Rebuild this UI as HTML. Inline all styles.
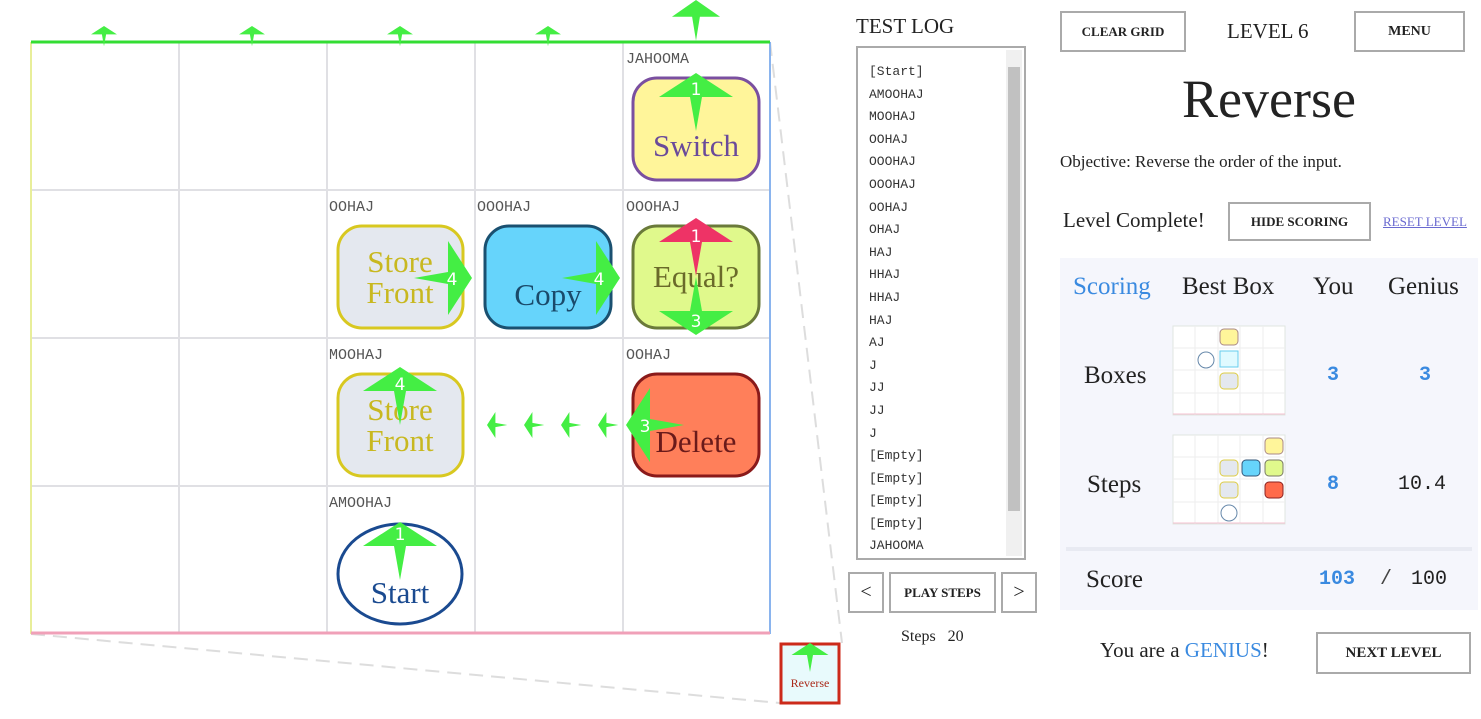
<!DOCTYPE html>
<html><head><meta charset="utf-8"><style>
body{margin:0;width:1481px;height:719px;background:#fff;position:relative;overflow:hidden;font-family:"Liberation Serif",serif;color:#222}
.a{position:absolute}
.btn{position:absolute;border:2px solid #aaa;background:#fff;font-weight:bold;font-size:13px;text-align:center;box-sizing:border-box;font-family:"Liberation Serif",serif}
.mono{font-family:"Liberation Mono",monospace}
</style></head><body>
<svg class="a" style="left:0;top:0" width="1481" height="719">
<defs>
<polygon id="ar" points="0,0 37,24 6,24 0,58 -6,24 -37,24"/>
</defs>
<!-- dashed perspective lines -->
<line x1="770" y1="42" x2="842" y2="643" stroke="#ddd" stroke-width="2" stroke-dasharray="14,8"/>
<line x1="31" y1="634" x2="780" y2="703" stroke="#ddd" stroke-width="2" stroke-dasharray="14,8"/>
<!-- grid -->
<g stroke="#e0e0e4" stroke-width="2">
<line x1="179" y1="42" x2="179" y2="634"/><line x1="327" y1="42" x2="327" y2="634"/>
<line x1="475" y1="42" x2="475" y2="634"/><line x1="623" y1="42" x2="623" y2="634"/>
<line x1="31" y1="190" x2="770" y2="190"/><line x1="31" y1="338" x2="770" y2="338"/><line x1="31" y1="486" x2="770" y2="486"/>
</g>
<line x1="31" y1="42" x2="31" y2="634" stroke="#e8ee9a" stroke-width="2"/>
<line x1="770" y1="42" x2="770" y2="634" stroke="#8ab4ee" stroke-width="2"/>
<line x1="31" y1="633" x2="770" y2="633" stroke="#f0a0b8" stroke-width="3"/>
<line x1="31" y1="42" x2="770" y2="42" stroke="#33dd33" stroke-width="3"/>
<!-- cell labels -->
<g font-family="Liberation Mono,monospace" font-size="15" fill="#555">
<text x="626" y="63">JAHOOMA</text>
<text x="329" y="211">OOHAJ</text><text x="477" y="211">OOOHAJ</text><text x="626" y="211">OOOHAJ</text>
<text x="329" y="359">MOOHAJ</text><text x="626" y="359">OOHAJ</text>
<text x="329" y="507">AMOOHAJ</text>
</g>
<!-- boxes -->
<g stroke-width="3" font-family="Liberation Serif,serif" font-size="31" text-anchor="middle">
<rect x="633" y="78" width="126" height="102" rx="24" fill="#fff59a" stroke="#7a4fa0"/>
<text x="696" y="156" fill="#6a4a9a">Switch</text>
<rect x="338" y="226" width="125" height="102" rx="24" fill="#e4e8ef" stroke="#d8c820"/>
<text x="400" y="272" fill="#c8b820">Store</text><text x="400" y="303" fill="#c8b820">Front</text>
<rect x="485" y="226" width="126" height="102" rx="24" fill="#66d4fb" stroke="#1a5070"/>
<text x="548" y="305" fill="#1a4a6a">Copy</text>
<rect x="633" y="226" width="126" height="102" rx="24" fill="#e0f98c" stroke="#6a7a3a"/>
<text x="696" y="287" fill="#6a6a2a">Equal?</text>
<rect x="338" y="374" width="125" height="102" rx="24" fill="#e4e8ef" stroke="#d8c820"/>
<text x="400" y="420" fill="#c8b820">Store</text><text x="400" y="451" fill="#c8b820">Front</text>
<rect x="633" y="374" width="126" height="102" rx="24" fill="#ff7f5a" stroke="#8a1a1a"/>
<text x="696" y="452" fill="#6a1a1a">Delete</text>
<ellipse cx="400" cy="574" rx="62" ry="50" fill="#fff" stroke="#1a4a90"/>
<text x="400" y="603" fill="#1a4a90">Start</text>
</g>
<!-- arrows -->
<g fill="#44ee44">
<use href="#ar" transform="translate(104,26) scale(.35)"/>
<use href="#ar" transform="translate(252,26) scale(.35)"/>
<use href="#ar" transform="translate(400,26) scale(.35)"/>
<use href="#ar" transform="translate(548,26) scale(.35)"/>
<use href="#ar" transform="translate(696,0) scale(.65,.7)"/>
<use href="#ar" transform="translate(696,73)"/>
<use href="#ar" transform="translate(472,278) rotate(90)"/>
<use href="#ar" transform="translate(620,278) rotate(90)"/>
<use href="#ar" transform="translate(696,335) rotate(180)"/>
<use href="#ar" transform="translate(400,367)"/>
<use href="#ar" transform="translate(626,425) rotate(-90)"/>
<use href="#ar" transform="translate(487,425) rotate(-90) scale(.35)"/>
<use href="#ar" transform="translate(524,425) rotate(-90) scale(.35)"/>
<use href="#ar" transform="translate(561,425) rotate(-90) scale(.35)"/>
<use href="#ar" transform="translate(598,425) rotate(-90) scale(.35)"/>
<use href="#ar" transform="translate(400,522)"/>
</g>
<use href="#ar" fill="#ee3366" transform="translate(696,218)"/>
<g fill="#fff" font-family="DejaVu Sans,sans-serif" font-size="17" text-anchor="middle">
<text x="696" y="95">1</text><text x="452" y="285">4</text><text x="599" y="285">4</text>
<text x="696" y="242">1</text><text x="696" y="327">3</text><text x="400" y="390">4</text>
<text x="645" y="432">3</text><text x="400" y="540">1</text>
</g>
<!-- thumbnail -->
<rect x="781" y="644" width="58" height="59" fill="#e8fafc" stroke="#cc2a1a" stroke-width="3"/>
<text x="810" y="687" font-size="12" fill="#aa2a1a" text-anchor="middle" font-family="Liberation Serif,serif">Reverse</text>
<use href="#ar" fill="#44ee44" transform="translate(810,643) scale(.5)"/>
</svg>

<!-- test log -->
<div class="a" style="left:856px;top:14px;font-size:21px">TEST LOG</div>
<div class="a" style="left:856px;top:46px;width:170px;height:514px;border:2px solid #aaa;box-sizing:border-box;background:#fff"></div>
<div class="a" style="left:1006px;top:50px;width:16px;height:506px;background:#f0f0f0"></div>
<div class="a" style="left:1008px;top:67px;width:12px;height:444px;background:#c1c1c1"></div>
<div class="a mono" style="left:869px;top:61px;font-size:13px;line-height:22.6px;color:#333;white-space:pre">[Start]
AMOOHAJ
MOOHAJ
OOHAJ
OOOHAJ
OOOHAJ
OOHAJ
OHAJ
HAJ
HHAJ
HHAJ
HAJ
AJ
J
JJ
JJ
J
[Empty]
[Empty]
[Empty]
[Empty]
JAHOOMA</div>
<div class="btn" style="left:848px;top:572px;width:36px;height:41px;font-size:20px;font-weight:normal;line-height:37px">&lt;</div>
<div class="btn" style="left:889px;top:572px;width:107px;height:41px;line-height:37px">PLAY STEPS</div>
<div class="btn" style="left:1001px;top:572px;width:36px;height:41px;font-size:20px;font-weight:normal;line-height:37px">&gt;</div>
<div class="a" style="left:901px;top:628px;font-size:16px">Steps&nbsp;&nbsp;&nbsp;20</div>

<!-- right panel -->
<div class="btn" style="left:1060px;top:11px;width:126px;height:41px;line-height:37px">CLEAR GRID</div>
<div class="a" style="left:1227px;top:19px;font-size:21px">LEVEL 6</div>
<div class="btn" style="left:1354px;top:11px;width:111px;height:41px;line-height:37px;font-size:14px">MENU</div>
<div class="a" style="left:1060px;top:68px;width:418px;text-align:center;font-size:54px">Reverse</div>
<div class="a" style="left:1060px;top:152px;font-size:17px">Objective: Reverse the order of the input.</div>
<div class="a" style="left:1063px;top:208px;font-size:21px">Level Complete!</div>
<div class="btn" style="left:1228px;top:202px;width:143px;height:39px;line-height:35px">HIDE SCORING</div>
<div class="a" style="left:1383px;top:214px;font-size:13px;color:#6a6ad0;text-decoration:underline">RESET LEVEL</div>
<div class="a" style="left:1060px;top:258px;width:418px;height:352px;background:#f5f6fc"></div>
<div class="a" style="left:1066px;top:547px;width:406px;height:4px;background:#e8eaf2"></div>
<div class="a" style="left:1073px;top:273px;font-size:25px;color:#3a8ae0">Scoring</div>
<div class="a" style="left:1182px;top:273px;font-size:25px">Best Box</div>
<div class="a" style="left:1313px;top:273px;font-size:25px">You</div>
<div class="a" style="left:1388px;top:273px;font-size:25px">Genius</div>
<div class="a" style="left:1084px;top:362px;font-size:25px">Boxes</div>
<div class="a" style="left:1087px;top:471px;font-size:25px">Steps</div>
<div class="a" style="left:1086px;top:566px;font-size:25px">Score</div>
<div class="a mono" style="left:1327px;top:364px;font-size:20px;font-weight:bold;color:#3a8ae0">3</div>
<div class="a mono" style="left:1419px;top:364px;font-size:20px;font-weight:bold;color:#3a8ae0">3</div>
<div class="a mono" style="left:1327px;top:473px;font-size:20px;font-weight:bold;color:#3a8ae0">8</div>
<div class="a mono" style="left:1398px;top:473px;font-size:20px;color:#222">10.4</div>
<div class="a mono" style="left:1319px;top:568px;font-size:20px;font-weight:bold;color:#3a8ae0">103</div>
<div class="a mono" style="left:1380px;top:568px;font-size:20px;color:#444">/</div>
<div class="a mono" style="left:1411px;top:568px;font-size:20px;color:#222">100</div>
<svg class="a" style="left:1172px;top:325px" width="114" height="91">
<rect x="1" y="1" width="112" height="89" fill="#fff" stroke="#e0e6e0"/>
<g stroke="#eee"><line x1="23" y1="1" x2="23" y2="90"/><line x1="46" y1="1" x2="46" y2="90"/><line x1="68" y1="1" x2="68" y2="90"/><line x1="91" y1="1" x2="91" y2="90"/><line x1="1" y1="23" x2="113" y2="23"/><line x1="1" y1="45" x2="113" y2="45"/><line x1="1" y1="68" x2="113" y2="68"/></g>
<rect x="48" y="4" width="18" height="16" rx="4" fill="#fff59a" stroke="#a88"/>
<rect x="48" y="26" width="18" height="16" fill="#e0faff" stroke="#6ce"/>
<rect x="48" y="48" width="18" height="16" rx="4" fill="#e4e8ef" stroke="#dc4"/>
<circle cx="34" cy="35" r="8" fill="#fff" stroke="#68a"/>
<line x1="1" y1="89" x2="113" y2="89" stroke="#f4c0d0"/>
</svg>
<svg class="a" style="left:1172px;top:434px" width="114" height="91">
<rect x="1" y="1" width="112" height="89" fill="#fff" stroke="#e0e6e0"/>
<g stroke="#eee"><line x1="23" y1="1" x2="23" y2="90"/><line x1="46" y1="1" x2="46" y2="90"/><line x1="68" y1="1" x2="68" y2="90"/><line x1="91" y1="1" x2="91" y2="90"/><line x1="1" y1="23" x2="113" y2="23"/><line x1="1" y1="45" x2="113" y2="45"/><line x1="1" y1="68" x2="113" y2="68"/></g>
<rect x="93" y="4" width="18" height="16" rx="4" fill="#fff59a" stroke="#a88"/>
<rect x="48" y="26" width="18" height="16" rx="4" fill="#e4e8ef" stroke="#dc4"/>
<rect x="70" y="26" width="18" height="16" rx="4" fill="#66d4fb" stroke="#357"/>
<rect x="93" y="26" width="18" height="16" rx="4" fill="#e0f98c" stroke="#776"/>
<rect x="48" y="48" width="18" height="16" rx="4" fill="#e4e8ef" stroke="#dc4"/>
<rect x="93" y="48" width="18" height="16" rx="4" fill="#ff6a4a" stroke="#822"/>
<circle cx="57" cy="79" r="8" fill="#fff" stroke="#68a"/>
<line x1="1" y1="89" x2="113" y2="89" stroke="#f4c0d0"/>
</svg>
<div class="a" style="left:1100px;top:638px;font-size:21px">You are a <span style="color:#3a8ae0">GENIUS</span>!</div>
<div class="btn" style="left:1316px;top:632px;width:155px;height:42px;line-height:38px;font-size:15px">NEXT LEVEL</div>
</body></html>
